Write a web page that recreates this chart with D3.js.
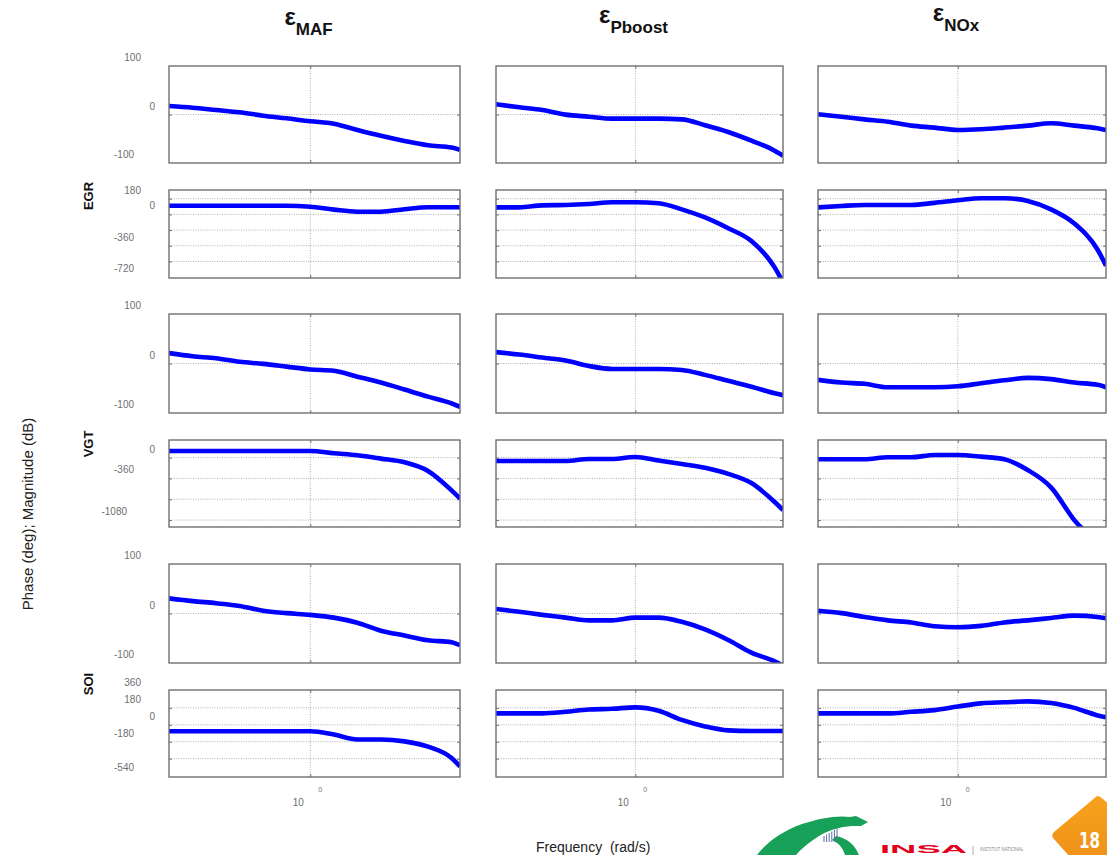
<!DOCTYPE html>
<html>
<head>
<meta charset="utf-8">
<script src="https://cdn.jsdelivr.net/npm/d3@7"></script>
<style>
  html, body { margin: 0; padding: 0; background: #fff; }
  svg { display: block; font-family: "Liberation Sans", Arial, sans-serif; }
</style>
</head>
<body>
<svg id="chart" width="1107" height="855"></svg>
<script>
// Frequency samples (rad/s), log spaced
const freq = [0.1, 0.147, 0.215, 0.316, 0.464, 0.681, 1, 1.468, 2.154, 3.162, 4.642, 6.813, 10, 11.48];

const outputs = ["MAF", "Pboost", "NOx"];
const inputs = ["EGR", "VGT", "SOI"];

// Magnitude (dB)
const egrMafMag    = [17.5, 14, 9.3, 4.5, -2.4, -7.9, -14, -19, -32, -44, -54.6, -63.5, -68, -73];
const egrPboostMag = [21, 14.8, 9.3, -0.3, -4.5, -8.6, -8.6, -8.6, -10, -22, -36, -54, -74.6, -85];
const egrNoxMag    = [0.4, -4.5, -10, -14.8, -23, -27, -32, -30.5, -27, -23, -18, -23, -28.5, -32];
const vgtMafMag    = [21, 14.7, 10.5, 3.5, -0.7, -6.3, -12, -14.7, -26.6, -38.5, -52.5, -67, -80.5, -87.5];
const vgtPboostMag = [23, 18, 12, 6, -5, -11, -11, -11, -13, -23, -35, -47, -60, -64];
const vgtNoxMag    = [-33, -38.5, -41, -48, -48, -48, -46, -40, -34, -29, -31.5, -38.5, -43, -48];
const soiMafMag    = [30.5, 25, 20.8, 15.3, 5.5, 0.7, -2.8, -8.3, -18.7, -34.7, -44.4, -54, -58, -64];
const soiPboostMag = [9, 3.5, -2.8, -8.3, -13.9, -13.9, -8.3, -8.3, -16.7, -32, -53.4, -79, -96.5, -105];
const soiNoxMag    = [5.5, 0.7, -7, -13.9, -18, -25.7, -27.8, -25, -18, -13.9, -9, -4.2, -7, -9.7];

// Phase (deg)
const egrMafPh    = [100, 100, 100, 100, 100, 100, 88, 55, 31, 31, 59, 82, 82, 82];
const egrPboostPh = [81, 81, 104, 108, 120, 139, 139, 128, 58, -35, -159, -306, -608, -780];
const egrNoxPh    = [81, 97, 108, 108, 108, 132, 162, 186, 186, 155, 58, -104, -406, -588];
const vgtMafPh    = [116, 116, 116, 116, 116, 116, 116, 75, 40, -17, -81, -231, -566, -705];
const vgtPboostPh = [-57, -57, -57, -57, -23, -23, 12, -50, -110, -175, -280, -440, -768, -907];
const vgtNoxPh    = [-29, -29, -29, 6, 6, 46, 46, 17, -29, -214, -514, -1081, -1500, -1700];
const soiMafPh    = [-69, -69, -69, -69, -69, -69, -69, -104, -156, -156, -176, -232, -353, -443];
const soiPboostPh = [121, 121, 121, 138, 163, 170, 185, 149, 52, -17, -59, -66, -66, -66];
const soiNoxPh    = [121, 121, 121, 121, 138, 156, 194, 228, 239, 249, 232, 180, 100, 80];

// Axis ticks
const magTicks = [100, 0, -100];
const magGrid = [0];
const phaseGrid = [[180, 0, -180, -360, -540], [0, -360, -720, -1080], [180, 0, -180, -360]];
const phaseTicks = [[180, 0, -360, -720], [0, -360, -1080], [360, 180, 0, -180, -540]];
const phaseDomain = [[-730, 280], [-1200, 305], [-555, 370]];
const magDomain = [-100, 100];

const magSeries = [
  [egrMafMag, egrPboostMag, egrNoxMag],
  [vgtMafMag, vgtPboostMag, vgtNoxMag],
  [soiMafMag, soiPboostMag, soiNoxMag]
];
const phSeries = [
  [egrMafPh, egrPboostPh, egrNoxPh],
  [vgtMafPh, vgtPboostPh, vgtNoxPh],
  [soiMafPh, soiPboostPh, soiNoxPh]
];

// Layout
const colLeft = [169, 496, 818], colRight = [460, 783, 1106];
const magTop = [66, 314, 564], magBottom = [163, 413, 663];
const phTop = [190, 440, 690], phBottom = [278, 527, 777];
const rowLabelY = [196, 444, 684];
const titleY = [25, 23, 21];

const svg = d3.select("#chart");
svg.append("rect").attr("width", 1107).attr("height", 855).attr("fill", "#fff");
const defs = svg.append("defs");

const gridColor = "#9a9a9a";
const frameColor = "#707070";
const tickColor = "#6f6f6f";
let clipCount = 0;

function drawPanel(ci, top, bottom, domain, grid, ticks, values) {
  const x = d3.scaleLog().domain([freq[0], freq[freq.length - 1]]).range([colLeft[ci], colRight[ci]]);
  const y = d3.scaleLinear().domain(domain).range([bottom, top]);
  const g = svg.append("g");
  const id = "pclip" + (clipCount++);
  defs.append("clipPath").attr("id", id).append("rect")
    .attr("x", colLeft[ci]).attr("y", top)
    .attr("width", colRight[ci] - colLeft[ci]).attr("height", bottom - top);

  // dotted grid
  g.selectAll("line.hg").data(grid).join("line")
    .attr("x1", colLeft[ci]).attr("x2", colRight[ci])
    .attr("y1", d => y(d)).attr("y2", d => y(d))
    .attr("stroke", gridColor).attr("stroke-width", 0.8).attr("stroke-dasharray", "1,1.4");
  g.append("line")
    .attr("x1", x(1)).attr("x2", x(1)).attr("y1", top).attr("y2", bottom)
    .attr("stroke", gridColor).attr("stroke-width", 0.8).attr("stroke-dasharray", "1,1.4");

  // inner tick marks on every side
  const tickAxes = [
    [d3.axisLeft(y).tickValues(grid).tickSize(-3), colLeft[ci], 0],
    [d3.axisRight(y).tickValues(grid).tickSize(-3), colRight[ci], 0],
    [d3.axisBottom(x).tickValues([1]).tickSize(-3), 0, bottom],
    [d3.axisTop(x).tickValues([1]).tickSize(-3), 0, top]
  ];
  tickAxes.forEach(([ax, tx, ty]) => {
    const a = g.append("g").attr("transform", `translate(${tx},${ty})`).call(ax.tickFormat(""));
    a.select(".domain").remove();
    a.selectAll("line").attr("stroke", frameColor).attr("stroke-width", 1);
  });

  // response curve
  g.append("path").datum(values)
    .attr("clip-path", `url(#${id})`)
    .attr("d", d3.line().curve(d3.curveMonotoneX).x((d, i) => x(freq[i])).y(d => y(d)))
    .attr("fill", "none").attr("stroke", "#0000ff")
    .attr("stroke-width", 4.6).attr("stroke-linejoin", "round");

  // frame
  g.append("rect")
    .attr("x", colLeft[ci]).attr("y", top)
    .attr("width", colRight[ci] - colLeft[ci]).attr("height", bottom - top)
    .attr("fill", "none").attr("stroke", frameColor).attr("stroke-width", 1.4);

  // value labels on the first column, stepping left with their length
  if (ci === 0) {
    g.selectAll("text.tl").data(ticks).join("text")
      .attr("x", d => colLeft[0] - 14 - 7 * (String(d).length - 1))
      .attr("y", d => y(d) - 8.5)
      .attr("dy", "0.35em")
      .attr("text-anchor", "end")
      .attr("font-size", 10)
      .attr("fill", tickColor)
      .text(d => d);
  }
  return x;
}

inputs.forEach((inp, ri) => {
  outputs.forEach((out, ci) => {
    drawPanel(ci, magTop[ri], magBottom[ri], magDomain, magGrid, magTicks, magSeries[ri][ci]);
    const x = drawPanel(ci, phTop[ri], phBottom[ri], phaseDomain[ri], phaseGrid[ri], phaseTicks[ri], phSeries[ri][ci]);
    if (ri === inputs.length - 1) {
      // 10^0 frequency label
      svg.append("text").attr("x", x(1) - 12).attr("y", 806).attr("text-anchor", "middle")
        .attr("font-size", 10).attr("fill", tickColor).text("10");
      svg.append("text").attr("x", x(1) + 10).attr("y", 792).attr("text-anchor", "middle")
        .attr("font-size", 7).attr("fill", tickColor).text("0");
    }
  });
  svg.append("text")
    .attr("transform", `translate(88,${rowLabelY[ri]}) rotate(-90)`)
    .attr("text-anchor", "middle").attr("dominant-baseline", "central")
    .attr("font-size", 13).attr("font-weight", "bold").attr("fill", "#111")
    .text(inp);
});

// column titles: epsilon with subscript
outputs.forEach((out, ci) => {
  const cx = (colLeft[ci] + colRight[ci]) / 2 - 6;
  const t = svg.append("text").attr("x", cx).attr("y", titleY[ci])
    .attr("text-anchor", "middle").attr("font-weight", "bold").attr("fill", "#111");
  t.append("tspan").attr("font-size", 24).text("ε");
  t.append("tspan").attr("font-size", 17).attr("dy", 10).text(out);
});

// shared axis titles
svg.append("text")
  .attr("transform", "translate(27,514) rotate(-90)")
  .attr("text-anchor", "middle").attr("dominant-baseline", "central")
  .attr("font-size", 15).attr("fill", "#222")
  .text("Phase (deg); Magnitude (dB)");
svg.append("text")
  .attr("x", 536).attr("y", 852)
  .attr("font-size", 14).attr("fill", "#222")
  .style("white-space", "pre")
  .text("Frequency  (rad/s)");

// footer logos
const logo = svg.append("g");
logo.append("path")
  .attr("d", "M757,855 C766,843 782,831 802,824 C820,818 838,815 850,817 L856,816 L862,819 L868,822 L861,826 L852,826 C838,827 826,831 816,838 C808,843 801,849 796,855 Z")
  .attr("fill", "#17a057");
logo.append("path")
  .attr("d", "M836,836 C847,838 855,845 859,855 L845,855 C843,848 839,843 832,840 Z")
  .attr("fill", "#17a057");
d3.range(6).forEach(i => {
  logo.append("line").attr("x1", 824 + i * 2.6).attr("x2", 824 + i * 2.6)
    .attr("y1", 836 - i * 1.5).attr("y2", 842).attr("stroke", "#5b6fa8").attr("stroke-width", 1);
});
logo.append("text").attr("x", 880).attr("y", 852.5).attr("font-size", 10)
  .attr("textLength", 87).attr("lengthAdjust", "spacingAndGlyphs")
  .attr("font-weight", "bold").attr("fill", "#e3001b").text("INSA");
logo.append("line").attr("x1", 973).attr("x2", 973).attr("y1", 846).attr("y2", 855)
  .attr("stroke", "#999").attr("stroke-width", 0.8);
logo.append("text").attr("x", 980).attr("y", 851).attr("font-size", 4.5)
  .attr("fill", "#888").text("INSTITUT NATIONAL");

const grad = defs.append("linearGradient").attr("id", "orangeGrad")
  .attr("x1", "0").attr("y1", "0").attr("x2", "0").attr("y2", "1");
grad.append("stop").attr("offset", "0").attr("stop-color", "#f7a21d");
grad.append("stop").attr("offset", "1").attr("stop-color", "#ec8a17");
logo.append("path")
  .attr("d", "M1097,796 Q1100,796 1103,799 L1146,840 L1097,887 L1053,838 Q1051,835 1054,832 Z")
  .attr("fill", "url(#orangeGrad)");
logo.append("text").attr("x", 1079).attr("y", 848)
  .attr("textLength", 21).attr("lengthAdjust", "spacingAndGlyphs")
  .attr("font-family", "'Liberation Sans Narrow', 'DejaVu Sans Condensed', sans-serif")
  .attr("font-weight", "bold").attr("font-size", 22).attr("fill", "#fff").text("18");
</script>
</body>
</html>
